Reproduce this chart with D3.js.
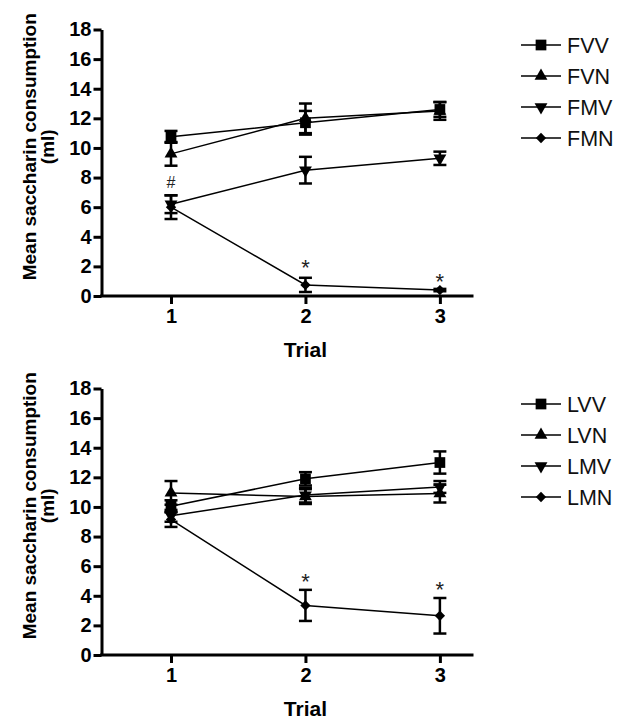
<!DOCTYPE html>
<html>
<head>
<meta charset="utf-8">
<script src="https://cdn.jsdelivr.net/npm/d3@7"></script>
<style>
  body { margin: 0; background: #fff; }
  svg { display: block; font-family: "Liberation Sans", Arial, sans-serif; }
  .axis path, .axis line { stroke: #000; stroke-width: 3; }
  .axis text { font-size: 20px; font-weight: bold; fill: #000; }
  .axis-title { font-size: 21px; font-weight: bold; fill: #000; }
  .y-title { font-size: 19px; font-weight: bold; fill: #000; }
  .legend text { font-size: 21.5px; fill: #111; }
</style>
</head>
<body>
<div id="chart"></div>
<script>
// x categories and y ticks
var trials = [1, 2, 3];
var yTicks = [0, 2, 4, 6, 8, 10, 12, 14, 16, 18];

// top panel (F groups): means and SEM per trial
var topNames = ["FVV", "FVN", "FMV", "FMN"];
var fvvMean = [10.75, 11.7, 12.6];
var fvvErr  = [0.4, 0.8, 0.5];
var fvnMean = [9.6, 12.0, 12.5];
var fvnErr  = [0.8, 1.0, 0.6];
var fmvMean = [6.2, 8.5, 9.3];
var fmvErr  = [0.6, 0.9, 0.45];
var fmnMean = [6.0, 0.75, 0.4];
var fmnErr  = [0.8, 0.48, 0.08];
var topNoteTrials = [1, 2, 3];
var topNoteValues = [7.7, 2.5, 1.6];
var topNoteLabels = ["#", "*", "*"];

// bottom panel (L groups)
var bottomNames = ["LVV", "LVN", "LMV", "LMN"];
var lvvMean = [10.05, 11.9, 13.0];
var lvvErr  = [0.4, 0.45, 0.75];
var lvnMean = [10.95, 10.7, 10.9];
var lvnErr  = [0.8, 0.5, 0.6];
var lmvMean = [9.4, 10.8, 11.35];
var lmvErr  = [0.4, 0.5, 0.4];
var lmnMean = [9.15, 3.35, 2.65];
var lmnErr  = [0.5, 1.05, 1.2];
var bottomNoteTrials = [2, 3];
var bottomNoteValues = [5.55, 5.0];
var bottomNoteLabels = ["*", "*"];

var W = 622, H = 720;
var svg = d3.select("#chart").append("svg").attr("width", W).attr("height", H);
svg.append("rect").attr("width", W).attr("height", H).attr("fill", "#fff");

var symbols = [
  d3.symbol().type(d3.symbolSquare).size(115),
  d3.symbol().type(d3.symbolTriangle).size(72),
  d3.symbol().type(d3.symbolTriangle).size(72),
  d3.symbol().type(d3.symbolDiamond2).size(68)
];
var rotations = [0, 0, 180, 0];

function makeSeries(means, errs) {
  return trials.map(function(t, i) { return {trial: t, mean: means[i], err: errs[i]}; });
}

function drawPanel(top, names, seriesList, noteTrials, noteValues, noteLabels) {
  var left = 101.5, plotW = 372, plotH = 266.5;
  var g = svg.append("g").attr("transform", "translate(" + left + "," + top + ")");

  var x = d3.scaleLinear().domain([0.483, 3.25]).range([0, plotW]);
  var y = d3.scaleLinear().domain([0, 18]).range([plotH, 0]);

  // lines
  var line = d3.line().x(function(d) { return x(d.trial); }).y(function(d) { return y(d.mean); });
  seriesList.forEach(function(s) {
    g.append("path").datum(s)
      .attr("d", line)
      .attr("fill", "none")
      .attr("stroke", "#000")
      .attr("stroke-width", 1.5);
  });

  // error bars
  seriesList.forEach(function(s, si) {
    var eb = g.selectAll(".eb" + si).data(s).enter().append("g").attr("class", "eb" + si);
    eb.append("line")
      .attr("x1", function(d) { return x(d.trial); })
      .attr("x2", function(d) { return x(d.trial); })
      .attr("y1", function(d) { return y(d.mean - d.err); })
      .attr("y2", function(d) { return y(d.mean + d.err); })
      .attr("stroke", "#000").attr("stroke-width", 2.5);
    [-1, 1].forEach(function(sign) {
      eb.append("line")
        .attr("x1", function(d) { return x(d.trial) - 6.5; })
        .attr("x2", function(d) { return x(d.trial) + 6.5; })
        .attr("y1", function(d) { return y(d.mean + sign * d.err); })
        .attr("y2", function(d) { return y(d.mean + sign * d.err); })
        .attr("stroke", "#000").attr("stroke-width", 2.5);
    });
  });

  // markers
  seriesList.forEach(function(s, si) {
    g.selectAll(".mk" + si).data(s).enter().append("path")
      .attr("class", "mk" + si)
      .attr("d", symbols[si])
      .attr("transform", function(d) {
        return "translate(" + x(d.trial) + "," + y(d.mean) + ") rotate(" + rotations[si] + ")";
      })
      .attr("fill", "#000");
  });

  // significance marks
  g.selectAll(".note").data(noteLabels).enter().append("text")
    .attr("class", "note")
    .attr("x", function(d, i) { return x(noteTrials[i]); })
    .attr("y", function(d, i) { return y(noteValues[i]); })
    .attr("dy", function(d) { return d === "#" ? "0.35em" : "0.75em"; })
    .attr("text-anchor", "middle")
    .style("font-size", function(d) { return d === "#" ? "16px" : "22px"; })
    .attr("fill", "#222")
    .text(function(d) { return d; });

  // axes
  var yAxis = d3.axisLeft(y).tickValues(yTicks).tickSize(8).tickSizeOuter(0).tickPadding(2);
  g.append("g").attr("class", "axis").call(yAxis);

  var xAxis = d3.axisBottom(x).tickValues(trials).tickSize(8).tickSizeOuter(0).tickPadding(5)
    .tickFormat(d3.format("d"));
  var xg = g.append("g").attr("class", "axis").attr("transform", "translate(0," + plotH + ")").call(xAxis);
  xg.select(".domain").attr("d", "M-1.5,0H" + plotW);

  g.append("text").attr("class", "axis-title")
    .attr("x", x(2)).attr("y", plotH + 61)
    .attr("text-anchor", "middle")
    .text("Trial");

  var yt = g.append("text").attr("class", "y-title")
    .attr("transform", "translate(-66," + (plotH / 2 - 16) + ") rotate(-90)")
    .attr("text-anchor", "middle");
  yt.append("tspan").attr("x", 0).attr("dy", 0).text("Mean saccharin consumption");
  yt.append("tspan").attr("x", 0).attr("dy", 18).text("(ml)");

  // legend
  var lg = svg.append("g").attr("class", "legend")
    .attr("transform", "translate(521," + (top + 15.5) + ")");
  var row = lg.selectAll("g").data(names).enter().append("g")
    .attr("transform", function(d, i) { return "translate(0," + (i * 31) + ")"; });
  row.append("line").attr("x1", 0).attr("x2", 40).attr("y1", 0).attr("y2", 0)
    .attr("stroke", "#000").attr("stroke-width", 1.5);
  row.append("path")
    .attr("d", function(d, i) { return symbols[i](); })
    .attr("transform", function(d, i) { return "translate(20,0) rotate(" + rotations[i] + ")"; })
    .attr("fill", "#000");
  row.append("text").attr("x", 46).attr("dy", "0.36em").text(function(d) { return d; });
}

drawPanel(29.5, topNames,
  [makeSeries(fvvMean, fvvErr), makeSeries(fvnMean, fvnErr), makeSeries(fmvMean, fmvErr), makeSeries(fmnMean, fmnErr)],
  topNoteTrials, topNoteValues, topNoteLabels);

drawPanel(388.5, bottomNames,
  [makeSeries(lvvMean, lvvErr), makeSeries(lvnMean, lvnErr), makeSeries(lmvMean, lmvErr), makeSeries(lmnMean, lmnErr)],
  bottomNoteTrials, bottomNoteValues, bottomNoteLabels);
</script>
</body>
</html>
